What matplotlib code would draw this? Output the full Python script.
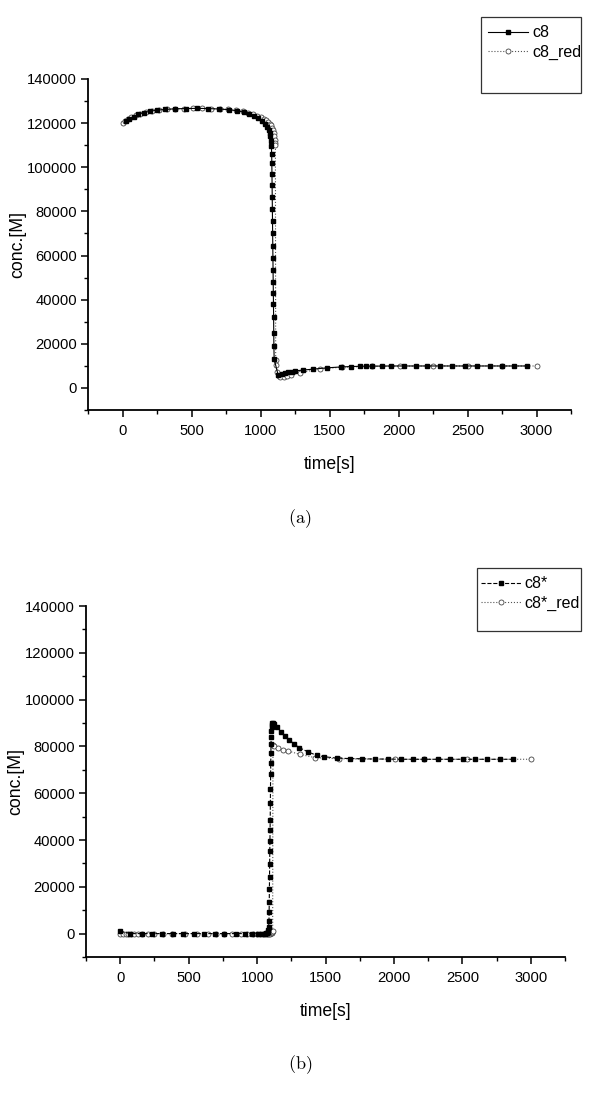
import numpy as np
import matplotlib
matplotlib.use("Agg")
import matplotlib.pyplot as plt
from matplotlib.patches import Rectangle
from matplotlib.ticker import MultipleLocator

plt.rcParams['font.family'] = ['Liberation Sans', 'DejaVu Sans']
plt.rcParams['mathtext.fontset'] = 'cm'

# ---- panel (a) data ----
t_c8 = [25, 50, 80, 115, 155, 200, 250, 310, 380, 460, 540, 620, 700, 770, 830,
        880, 920, 955, 985, 1010, 1030, 1046, 1058, 1066, 1072, 1076, 1079, 1081,
        1082, 1083, 1084, 1085, 1086, 1087, 1088, 1089, 1090, 1091, 1092, 1093,
        1094, 1095, 1096, 1097, 1099, 1128, 1153, 1177, 1200, 1226, 1251, 1307,
        1379, 1480, 1580, 1656, 1721, 1762, 1805, 1880, 1943, 2039, 2124, 2210,
        2300, 2390, 2480, 2570, 2660, 2750, 2840, 2930]
c8 = [121000, 122000, 123000, 124000, 124800, 125400, 125900, 126200, 126500,
      126600, 126700, 126600, 126400, 126100, 125600, 125000, 124200, 123300,
      122200, 121000, 119700, 118300, 117000, 115600, 114000, 112000, 109500,
      106000, 102000, 97000, 92000, 86500, 81000, 75500, 70000, 64500, 59000,
      53500, 48000, 43000, 38000, 32000, 25000, 19000, 13000, 5800, 6200, 6600,
      7000, 7400, 7700, 8100, 8500, 9100, 9500, 9700, 9800, 9850, 9900, 9900,
      9950, 9950, 9950, 9950, 9950, 9950, 9950, 9950, 9950, 9950, 9950, 9950]

t_c8_red = [0, 20, 40, 65, 95, 130, 170, 215, 265, 320, 380, 445, 510, 575, 640,
            705, 765, 820, 870, 910, 945, 975, 1000, 1022, 1040, 1055, 1067, 1077,
            1085, 1092, 1097, 1101, 1104, 1106, 1108, 1110, 1112, 1120, 1131, 1143,
            1167, 1192, 1221, 1288, 1428, 1590, 1807, 2012, 2250, 2500, 2750, 3000]
c8_red = [120000, 120900, 121800, 122700, 123500, 124300, 124900, 125500, 125900,
          126200, 126500, 126600, 126700, 126700, 126600, 126400, 126200, 125800,
          125300, 124700, 124000, 123300, 122600, 121900, 121200, 120500, 119800,
          119000, 118000, 116800, 115500, 114000, 112500, 111000, 110000, 12700,
          10400, 7400, 5400, 4800, 5100, 5400, 5900, 6900, 8600, 9400, 9800, 9900,
          9950, 9950, 9950, 9950]

# ---- panel (b) data ----
t_c8s = [0, 75, 157, 230, 303, 388, 460, 537, 610, 690, 760, 843, 910, 965, 1005,
         1035, 1055, 1067, 1075, 1080, 1083, 1085, 1087, 1088, 1089, 1090, 1091,
         1092, 1093, 1094, 1095, 1096, 1097, 1098, 1099, 1100, 1101, 1102, 1103,
         1104, 1106, 1108, 1111, 1116, 1123, 1147, 1174, 1203, 1235, 1270, 1308,
         1374, 1435, 1489, 1581, 1680, 1770, 1860, 1955, 2050, 2138, 2223, 2325,
         2411, 2503, 2593, 2683, 2776, 2873]
c8s = [1000, 0, 0, 0, 0, 0, 0, 0, 0, 0, 0, 0, 0, 0, 0, 0, 0, 100, 300, 700, 1500,
       3000, 5500, 9100, 13700, 19000, 24400, 29800, 35100, 39500, 44100, 48400,
       55800, 62000, 68000, 73000, 77000, 81000, 84000, 86500, 88300, 89300,
       89900, 90000, 89500, 88300, 86200, 84300, 82900, 81000, 79500, 77600, 76200,
       75600, 75000, 74800, 74700, 74600, 74600, 74500, 74500, 74500, 74500,
       74500, 74500, 74500, 74500, 74500, 74500]

t_c8s_red = [0, 20, 40, 60, 80, 100, 130, 160, 200, 250, 310, 380, 470, 560, 640,
             700, 760, 820, 880, 930, 970, 1000, 1025, 1045, 1060, 1072, 1082, 1090,
             1096, 1100, 1104, 1107, 1110, 1112, 1114, 1116, 1123, 1155, 1191, 1228,
             1313, 1423, 1600, 2011, 2223, 2537, 3000]
c8s_red = [0, 0, 0, 0, 0, 0, 0, 0, 0, 0, 0, 0, 0, 0, 0, 0, 0, 0, 0, 0, 0, 0, 0, 0,
           0, 0, 0, 0, 0, 100, 200, 300, 500, 800, 1200, 80500, 80000, 79500, 78600,
           78000, 76600, 75200, 74700, 74500, 74500, 74500, 74500]

fig = plt.figure(figsize=(6.0, 10.97), dpi=100)
H = 1097.0


def box(left, top, right, bottom):
    return [left / 600, 1 - bottom / H, (right - left) / 600, (bottom - top) / H]


def style(ax, w_px, h_px):
    for s in ['top', 'right']:
        ax.spines[s].set_visible(False)
    for s in ['left', 'bottom']:
        ax.spines[s].set_linewidth(1.3)
    ax.set_xlim(-250, 3250)
    ax.set_ylim(-10000, 140000)
    ax.xaxis.set_major_locator(MultipleLocator(500))
    ax.xaxis.set_minor_locator(MultipleLocator(250))
    ax.yaxis.set_major_locator(MultipleLocator(20000))
    ax.yaxis.set_minor_locator(MultipleLocator(10000))
    ax.tick_params(which='major', direction='out', length=5, width=1.1,
                   labelsize=10.6)
    ax.tick_params(axis='x', pad=5)
    ax.tick_params(axis='y', pad=3)
    ax.tick_params(which='minor', direction='out', length=3, width=1.0)
    ax.set_xlabel('time[s]', fontsize=12.7)
    ax.set_ylabel('conc.[M]', fontsize=12.7)
    ax.xaxis.set_label_coords(0.5, -46 / h_px)
    ax.yaxis.set_label_coords(-62 / w_px, 0.5)


ax1 = fig.add_axes(box(88, 79, 571, 410))
style(ax1, 483, 331)
l1, = ax1.plot(t_c8, c8, '-', color='black', lw=0.8, marker='s', ms=2.6,
               mfc='black', mec='black', label='c8', zorder=3)
l2, = ax1.plot(t_c8_red, c8_red, ':', color='#555555', lw=0.8, marker='o',
               ms=3.6, mfc='white', mec='#444444', mew=0.6, label='c8_red',
               zorder=2)
fig.legend(handles=[l1, l2], loc='upper left', bbox_to_anchor=(485 / 600, 1 - 22 / H),
           frameon=False, fontsize=11.5, handlelength=2.5, handletextpad=0.25,
           labelspacing=0.3, borderaxespad=0, borderpad=0.2)
fig.patches.append(Rectangle((481 / 600, 1 - 93 / H), 100 / 600, 76 / H,
                             transform=fig.transFigure, fill=False,
                             edgecolor='#333333', lw=0.9))
fig.text(300 / 600, 1 - 519 / H, r'$\mathrm{(a)}$', ha='center', va='center',
         fontsize=13)

ax2 = fig.add_axes(box(86, 606, 565, 957))
style(ax2, 479, 351)
l3, = ax2.plot(t_c8s, c8s, '--', color='black', lw=0.8, marker='s', ms=2.6,
               mfc='black', mec='black', label='c8*', zorder=3)
l4, = ax2.plot(t_c8s_red, c8s_red, ':', color='#555555', lw=0.8, marker='o',
               ms=3.6, mfc='white', mec='#444444', mew=0.6, label='c8*_red',
               zorder=2)
fig.legend(handles=[l3, l4], loc='upper left', bbox_to_anchor=(478 / 600, 1 - 573 / H),
           frameon=False, fontsize=11.5, handlelength=2.5, handletextpad=0.2,
           labelspacing=0.3, borderaxespad=0, borderpad=0.2)
fig.patches.append(Rectangle((477 / 600, 1 - 631 / H), 104 / 600, 63 / H,
                             transform=fig.transFigure, fill=False,
                             edgecolor='#333333', lw=0.9))
fig.text(300 / 600, 1 - 1065 / H, r'$\mathrm{(b)}$', ha='center', va='center',
         fontsize=13)

fig.savefig('out.png', dpi=100)
